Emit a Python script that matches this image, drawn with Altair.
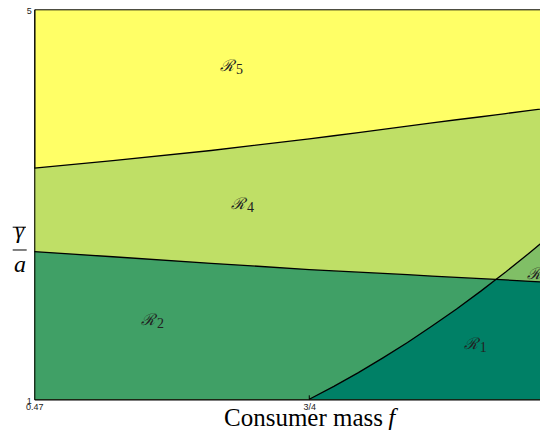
import altair as alt
import pandas as pd
import numpy as np

# ---- values ----
f    = [0.47, 0.55, 0.65, 0.75, 0.775, 0.80, 0.825, 0.85, 0.875, 0.90, 0.925, 0.94, 0.95, 0.975, 1.00]
top  = [3.372, 3.448, 3.552, 3.670, 3.703, 3.736, 3.768, 3.801, 3.835, 3.867, 3.898, 3.918, 3.931, 3.964, 3.997]
mid  = [2.515, 2.462, 2.395, 2.331, 2.317, 2.304, 2.291, 2.278, 2.264, 2.250, 2.237, 2.229, 2.224, 2.210, 2.198]
rise = [np.nan, np.nan, np.nan, 1.000, 1.133, 1.274, 1.425, 1.583, 1.751, 1.927, 2.112, 2.229, 2.306, 2.508, 2.719]

x_ticks = [0.47, 0.75]
y_ticks = [1, 5]

region_names = ["1", "2", "3", "4", "5"]
region_f     = [0.9145, 0.5858, 0.979, 0.6774, 0.6662]
region_y     = [1.516, 1.763, 2.235, 2.954, 4.371]

colors = {"R1": "#008066", "R2": "#40a066", "R3": "#80bf66", "R4": "#bfdf66", "R5": "#ffff66"}

# ---- tables ----
df = pd.DataFrame({"f": f, "top": top, "mid": mid, "rise": rise})
df["base"] = 1.0
dr = df[df["f"] >= 0.75].copy()
dr["r1top"] = np.minimum(dr["rise"], dr["mid"])
d3 = dr[dr["rise"] >= dr["mid"]].copy()

lab = pd.DataFrame({"f": region_f, "y": region_y, "sub": region_names, "R": ["ℛ"] * 5})
ticks = pd.DataFrame({"f": [0.75]})

xscale = alt.Scale(domain=[0.47, 1.0], nice=False, zero=False)
yscale = alt.Scale(domain=[1, 5], nice=False, zero=False)

X = alt.X("f:Q", scale=xscale, title=None,
          axis=alt.Axis(values=x_ticks, labelExpr="datum.value == 0.75 ? '3/4' : '0.47'",
                        tickSize=0, grid=False, domain=True, domainColor="black", domainWidth=1,
                        labelFlush=False, labelOverlap=False, labelPadding=3, zindex=1,
                        labelFont="Liberation Sans", labelFontSize=9, labelColor="#222"))
Yax = alt.Axis(values=y_ticks, tickSize=0, grid=False, domain=True, domainColor="black", domainWidth=1,
               labelFlush=False, labelOverlap=False, labelPadding=3, labelOffset=1.5, zindex=1,
               labelFont="Liberation Sans", labelFontSize=9, labelColor="#222")

def Y(field):
    return alt.Y(field, type="quantitative", scale=yscale, axis=Yax, title=None)

r4 = alt.Chart(df).mark_area(color=colors["R4"]).encode(x=X, y=Y("top"), y2="base")
r2 = alt.Chart(df).mark_area(color=colors["R2"]).encode(x=X, y=Y("mid"), y2="base")
r3 = alt.Chart(d3).mark_area(color=colors["R3"]).encode(x=X, y=Y("rise"), y2="mid")
r1 = alt.Chart(dr).mark_area(color=colors["R1"]).encode(x=X, y=Y("r1top"), y2="base")

l_top = alt.Chart(df).mark_line(color="black", strokeWidth=1.3).encode(x=X, y=Y("top"))
l_mid = alt.Chart(df).mark_line(color="black", strokeWidth=1.3).encode(x=X, y=Y("mid"))
l_rise = alt.Chart(dr).mark_line(color="black", strokeWidth=1.3).encode(x=X, y=Y("rise"))

tick = alt.Chart(ticks).mark_rule(color="black", strokeWidth=1).encode(
    x=X, y=alt.value(390), y2=alt.value(386))

lab_R = alt.Chart(lab).mark_text(font="DejaVu Serif", fontSize=16, fontStyle="italic",
                                 color="#222", align="center", baseline="alphabetic").encode(
    x=X, y=Y("y"), text="R:N")
lab_sub = alt.Chart(lab).mark_text(font="Liberation Serif", fontSize=14, color="#222",
                                   align="left", baseline="alphabetic", dx=9, dy=3).encode(
    x=X, y=Y("y"), text="sub:N")

t1 = alt.Chart(pd.DataFrame({"t": ["Consumer mass"]})).mark_text(
    font="Liberation Serif", fontSize=25, color="black", align="right", baseline="alphabetic").encode(
    x=alt.value(348.7), y=alt.value(416.7), text="t:N")
t2 = alt.Chart(pd.DataFrame({"t": ["f"]})).mark_text(
    font="Liberation Serif", fontSize=25, fontStyle="italic", color="black", align="left",
    baseline="alphabetic").encode(x=alt.value(354), y=alt.value(416.7), text="t:N")

g = alt.Chart(pd.DataFrame({"t": ["γ"]})).mark_text(
    font="Liberation Serif", fontSize=23, fontStyle="italic", color="black", align="center",
    baseline="alphabetic").encode(x=alt.value(-14.8), y=alt.value(229), text="t:N")
a = alt.Chart(pd.DataFrame({"t": ["a"]})).mark_text(
    font="Liberation Serif", fontSize=24, fontStyle="italic", color="black", align="center",
    baseline="alphabetic").encode(x=alt.value(-14.3), y=alt.value(262.7), text="t:N")
over = alt.Chart(pd.DataFrame({"t": [0]})).mark_rule(color="black", strokeWidth=1).encode(
    x=alt.value(-21.6), x2=alt.value(-8.3), y=alt.value(217.9))
frac = alt.Chart(pd.DataFrame({"t": [0]})).mark_rule(color="black", strokeWidth=1).encode(
    x=alt.value(-21.6), x2=alt.value(-7.6), y=alt.value(240.7))

chart = alt.layer(r4, r2, r3, r1, l_top, l_mid, l_rise, tick, lab_R, lab_sub,
                  t1, t2, g, a, over, frac).properties(
    width=520.5, height=390,
    autosize=alt.AutoSizeParams(type="none"),
    padding={"left": 26.3, "top": 1.3, "right": -15, "bottom": 31},
).configure_view(stroke="black", strokeWidth=1, fill=colors["R5"])

chart.save("out.html", embed_options={"renderer": "svg", "actions": False})
